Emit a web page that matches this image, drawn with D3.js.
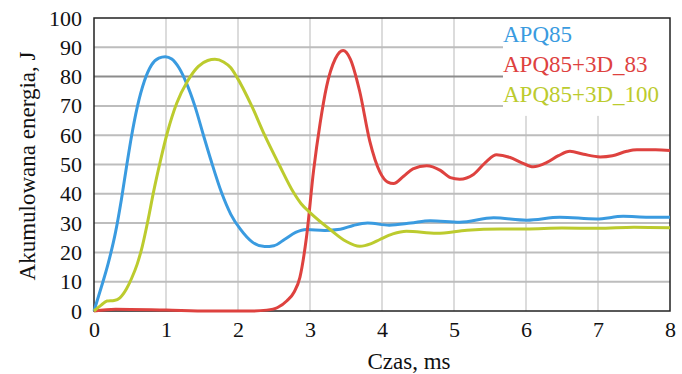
<!DOCTYPE html>
<html>
<head>
<meta charset="utf-8">
<script src="https://cdn.jsdelivr.net/npm/d3@7"></script>
<style>
  body { margin: 0; background: #fff; }
  text { font-family: "Liberation Serif", "DejaVu Serif", serif; }
</style>
</head>
<body>
<div id="chart"></div>
<script>
// data: time in ms, energy in J
var xTicks = [0, 1, 2, 3, 4, 5, 6, 7, 8];
var yTicks = [0, 10, 20, 30, 40, 50, 60, 70, 80, 90, 100];
var seriesNames = ["APQ85", "APQ85+3D_83", "APQ85+3D_100"];
var seriesColors = ["#3a9be0", "#de423f", "#bccb2e"];

var apq85 = [[0,0],[0.1,8],[0.2,16.5],[0.3,27],[0.38,38],[0.45,49],[0.52,59.5],[0.6,69.5],[0.7,78.5],[0.8,84],[0.9,86.3],[0.99,86.8],
  [1.08,86],[1.18,83],[1.28,78],[1.4,70],[1.52,60],[1.63,51],[1.77,40.5],[1.9,33],[2.03,28],[2.2,23.5],[2.37,22],[2.5,22.3],
  [2.65,24.5],[2.8,26.8],[2.95,27.8],[3.2,27.5],[3.42,27.9],[3.6,29.2],[3.8,30],[4.1,29.3],[4.4,30],[4.67,30.8],[5.08,30.3],
  [5.55,31.8],[6.01,31],[6.47,32],[6.98,31.4],[7.35,32.3],[7.7,32],[8,32]];
var apq85_3d83 = [[0,0],[0.3,0.6],[1.0,0.3],[1.6,0],[2.2,0],[2.4,0.3],[2.55,1.2],[2.68,3.5],[2.78,6.5],[2.86,11.5],[2.95,25],
  [3.05,48],[3.14,64],[3.23,76.6],[3.35,86],[3.46,88.9],[3.56,86],[3.69,75],[3.83,58],[3.97,47.5],[4.08,44],[4.16,43.5],
  [4.3,46],[4.43,48.5],[4.62,49.6],[4.81,48],[4.95,45.5],[5.08,45],[5.27,46.6],[5.45,51],[5.59,53.3],[5.78,52.4],[5.95,50.5],
  [6.1,49.2],[6.29,50.7],[6.45,53],[6.61,54.5],[6.8,53.5],[7.03,52.6],[7.2,53],[7.4,54.5],[7.54,55],[7.8,55],[8,54.8]];
var apq85_3d100 = [[0,0],[0.1,2],[0.18,3.4],[0.28,3.6],[0.36,4.5],[0.45,7.5],[0.52,11],[0.6,16],[0.67,22],[0.75,31],[0.83,41],
  [0.92,51],[1.02,61],[1.15,71],[1.3,78.5],[1.45,83.5],[1.58,85.5],[1.68,85.9],[1.8,85],[1.9,83],[1.98,80],[2.19,70],[2.37,60],
  [2.57,50],[2.77,40.5],[2.88,36.5],[3.0,33.6],[3.28,27.8],[3.5,23.8],[3.69,22.1],[3.85,23],[3.97,24.4],[4.15,26.3],[4.34,27.2],
  [4.76,26.5],[5.18,27.6],[5.64,28],[6.0,28],[6.5,28.3],[7.0,28.2],[7.5,28.6],[8,28.4]];
var seriesData = [apq85, apq85_3d83, apq85_3d100];

var width = 682, height = 374;
var margin = { left: 94, right: 12, top: 18, bottom: 63 };

var svg = d3.select('#chart').append('svg')
    .attr('width', width)
    .attr('height', height);

var x = d3.scaleLinear().domain([0, 8]).range([margin.left, width - margin.right]);
var y = d3.scaleLinear().domain([0, 100]).range([height - margin.bottom, margin.top]);

// vertical grid
svg.append('g').selectAll('line')
    .data(xTicks.slice(1, -1))
    .enter().append('line')
    .attr('x1', d => x(d)).attr('x2', d => x(d))
    .attr('y1', y(100)).attr('y2', y(0))
    .style('stroke', '#d0d0d0')
    .style('stroke-width', 1.5);

// horizontal grid
svg.append('g').selectAll('line')
    .data(yTicks.slice(1, -1))
    .enter().append('line')
    .attr('x1', x(0)).attr('x2', x(8))
    .attr('y1', d => y(d)).attr('y2', d => y(d))
    .style('stroke', d => d === 80 ? '#8c8c8c' : '#bdbdbd')
    .style('stroke-width', 2);

// legend box hides the grid behind it
var legendLeft = 503;
svg.append('rect')
    .attr('x', legendLeft).attr('y', y(100))
    .attr('width', x(8) - legendLeft).attr('height', y(66.6) - y(100))
    .style('fill', '#fff');

// frame
svg.append('rect')
    .attr('x', x(0)).attr('y', y(100))
    .attr('width', x(8) - x(0)).attr('height', y(0) - y(100))
    .style('fill', 'none')
    .style('stroke', '#222')
    .style('stroke-width', 1.5);

var line = d3.line()
    .x(d => x(d[0]))
    .y(d => y(d[1]))
    .curve(d3.curveMonotoneX);

svg.append('g').selectAll('path')
    .data(seriesData)
    .enter().append('path')
    .attr('d', line)
    .style('fill', 'none')
    .style('stroke', (d, i) => seriesColors[i])
    .style('stroke-width', 3)
    .style('stroke-linejoin', 'round');

// axes
var xAxis = d3.axisBottom(x).tickValues(xTicks).tickSize(0).tickPadding(10);
svg.append('g')
    .attr('transform', 'translate(0,' + y(0) + ')')
    .call(xAxis)
    .call(g => g.select('.domain').remove())
    .selectAll('text')
    .style('font-family', '"Liberation Serif", serif')
    .style('font-size', '22px')
    .style('fill', '#111');

var yAxis = d3.axisLeft(y).tickValues(yTicks).tickSize(0).tickPadding(12);
svg.append('g')
    .attr('transform', 'translate(' + x(0) + ',0)')
    .call(yAxis)
    .call(g => g.select('.domain').remove())
    .selectAll('text')
    .style('font-family', '"Liberation Serif", serif')
    .style('font-size', '22px')
    .style('fill', '#111');

// axis titles
svg.append('text')
    .attr('x', 409).attr('y', 369)
    .attr('text-anchor', 'middle')
    .style('font-size', '23px')
    .style('fill', '#111')
    .text('Czas, ms');

svg.append('text')
    .attr('transform', 'translate(35,166) rotate(-90)')
    .attr('text-anchor', 'middle')
    .style('font-size', '23px')
    .style('fill', '#111')
    .text('Akumulowana energia, J');

// legend
svg.append('g').selectAll('text')
    .data(seriesNames)
    .enter().append('text')
    .attr('x', legendLeft)
    .attr('y', (d, i) => 42 + i * 30)
    .style('font-size', '23px')
    .style('fill', (d, i) => seriesColors[i])
    .text(d => d);
</script>
</body>
</html>
